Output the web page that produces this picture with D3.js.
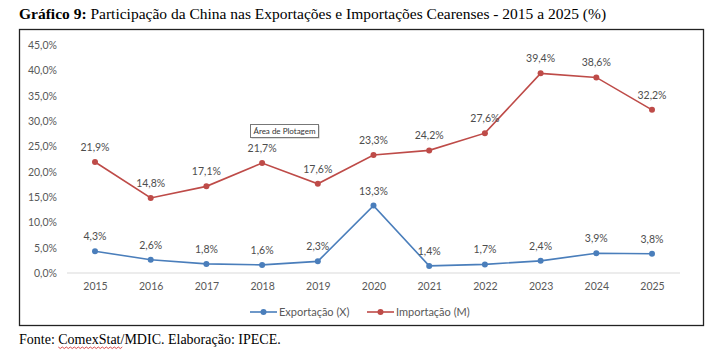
<!DOCTYPE html>
<html>
<head>
<meta charset="utf-8">
<script src="https://cdn.jsdelivr.net/npm/d3@7"></script>
<style>
  body { margin: 0; background: #fff; }
  svg { display: block; }
</style>
</head>
<body>
<svg id="chart" width="721" height="354"></svg>
<script>
// data
const years = ['2015','2016','2017','2018','2019','2020','2021','2022','2023','2024','2025'];
const exportacao = [4.3, 2.6, 1.8, 1.6, 2.3, 13.3, 1.4, 1.7, 2.4, 3.9, 3.8];
const importacao = [21.9, 14.8, 17.1, 21.7, 17.6, 23.3, 24.2, 27.6, 39.4, 38.6, 32.2];
const yTicks = [0, 5, 10, 15, 20, 25, 30, 35, 40, 45];

const series = [
    {name: 'Exportação (X)', values: exportacao, colour: '#4a7ebb'},
    {name: 'Importação (M)', values: importacao, colour: '#be4b48'}
];

const svg = d3.select('#chart');
const serif = '"Liberation Serif", "Times New Roman", serif';
const chartFont = 'Lato, "Open Sans", sans-serif'; // closest to Calibri
const fmt = v => d3.format('.1f')(v).replace('.', ',') + '%';

// title, above the frame
const title = svg.append('text')
    .attr('x', 19).attr('y', 19)
    .style('font-family', serif)
    .style('font-size', '15.5px')
    .attr('fill', '#000');
title.append('tspan').style('font-weight', 'bold').text('Gráfico 9:');
title.append('tspan').text(' Participação da China nas Exportações e Importações Cearenses - 2015 a 2025 (%)');

// chart frame
svg.append('rect')
    .attr('x', 19.5).attr('y', 29.5)
    .attr('width', 684).attr('height', 296)
    .attr('fill', '#fff')
    .attr('stroke', '#222').attr('stroke-width', 1.3);

const x = d3.scalePoint().domain(years).range([95, 652]);
const y = d3.scaleLinear().domain([0, 45]).range([273, 45]);

// y axis: labels only
svg.append('g')
    .attr('transform', 'translate(57,0)')
    .call(d3.axisLeft(y).tickValues(yTicks).tickFormat(fmt).tickSize(0).tickPadding(0))
    .call(g => g.select('.domain').remove())
    .selectAll('text')
        .attr('fill', '#595959')
        .style('font-family', chartFont)
        .style('font-size', '10.5px');

// baseline
svg.append('line')
    .attr('x1', 67).attr('x2', 680)
    .attr('y1', y(0)).attr('y2', y(0))
    .attr('stroke', '#d9d9d9').attr('stroke-width', 1);

// x axis labels
svg.append('g')
    .attr('transform', `translate(0,${y(0) + 9})`)
    .call(d3.axisBottom(x).tickSize(0).tickPadding(0))
    .call(g => g.select('.domain').remove())
    .selectAll('text')
        .attr('fill', '#595959')
        .attr('dy', '0.75em')
        .style('font-family', chartFont)
        .style('font-size', '10.5px');

// lines, markers and value labels
const line = d3.line().x((d, i) => x(years[i])).y(d => y(d));

series.forEach(s => {
    svg.append('path')
        .attr('d', line(s.values))
        .attr('fill', 'none')
        .attr('stroke', s.colour)
        .attr('stroke-width', 1.6);

    svg.selectAll(null).data(s.values).join('circle')
        .attr('cx', (d, i) => x(years[i]))
        .attr('cy', d => y(d))
        .attr('r', 3)
        .attr('fill', s.colour);

    svg.selectAll(null).data(s.values).join('text')
        .attr('x', (d, i) => x(years[i]))
        .attr('y', d => y(d) - 11)
        .attr('text-anchor', 'middle')
        .attr('fill', '#4d4d4d')
        .style('font-family', chartFont)
        .style('font-size', '10.5px')
        .text(fmt);
});

// Excel tooltip captured in the screenshot
const tip = svg.append('g').attr('transform', 'translate(250,124)');
tip.append('rect')
    .attr('x', 1.5).attr('y', 1.5).attr('width', 68).attr('height', 13)
    .attr('fill', '#bbb');
tip.append('rect')
    .attr('x', 0.5).attr('y', 0.5).attr('width', 68).attr('height', 13)
    .attr('fill', '#fff').attr('stroke', '#777');
tip.append('text')
    .attr('x', 34.5).attr('y', 10)
    .attr('text-anchor', 'middle')
    .attr('fill', '#333')
    .style('font-family', chartFont)
    .style('font-size', '8px')
    .text('Área de Plotagem');

// legend
const legend = svg.append('g').attr('transform', 'translate(0,312)');
const legendX = [250, 367];
series.forEach((s, i) => {
    const g = legend.append('g').attr('transform', `translate(${legendX[i]},0)`);
    g.append('line').attr('x1', 0).attr('x2', 27).attr('stroke', s.colour).attr('stroke-width', 1.6);
    g.append('circle').attr('cx', 13.5).attr('r', 3).attr('fill', s.colour);
    g.append('text')
        .attr('x', 29).attr('dy', '0.35em')
        .attr('fill', '#595959')
        .style('font-family', chartFont)
        .style('font-size', '11px')
        .text(s.name);
});

// source
const src = svg.append('text')
    .attr('x', 19).attr('y', 344)
    .style('font-family', serif)
    .style('font-size', '14px')
    .attr('fill', '#000');
src.append('tspan').text('Fonte: ');
src.append('tspan').text('ComexStat');
src.append('tspan').text('/MDIC. Elaboração: IPECE.');

// spell-check squiggle under "ComexStat", as in the screenshot
const srcNode = src.node();
const sqStart = 19 + srcNode.getSubStringLength(0, 7);
const sqEnd = 19 + srcNode.getSubStringLength(0, 16);
const sq = d3.path();
sq.moveTo(sqStart, 347);
for (let px = sqStart, k = 0; px < sqEnd; px += 2, k++) sq.lineTo(px + 2, k % 2 ? 347 : 348.5);
svg.append('path')
    .attr('d', sq.toString())
    .attr('fill', 'none')
    .attr('stroke', '#d02020')
    .attr('stroke-width', 0.8);
</script>
</body>
</html>
